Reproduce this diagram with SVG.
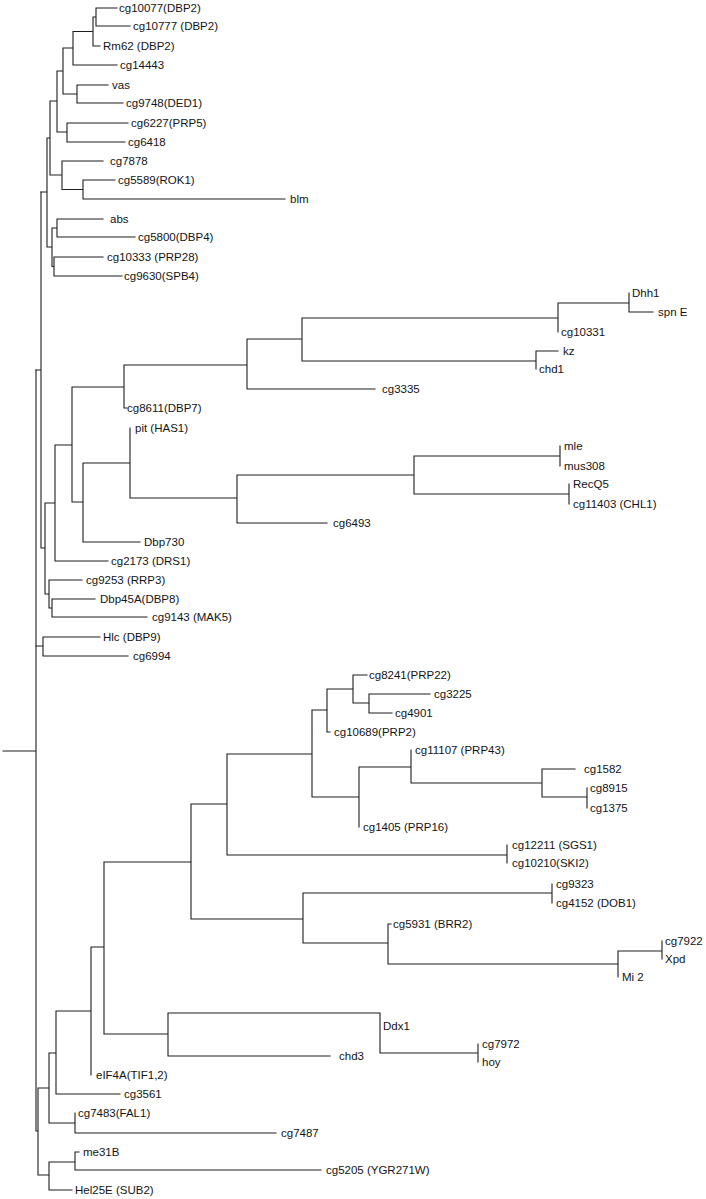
<svg xmlns="http://www.w3.org/2000/svg" width="706" height="1199" viewBox="0 0 706 1199">
<style>
.e{fill:none;stroke:#1e1e1e;stroke-width:1.1;stroke-linecap:square}
text{font-family:"Liberation Sans",Arial,sans-serif;font-size:11.5px;fill:#141414}
</style>
<rect width="706" height="1199" fill="#fff"/>
<g id="connectors">
<path class="e" d="M96 8H117M96 26H130M96 8V26M93 17H96M93 46H100M93 17V46M73 31.5H93M73 65H117M73 31.5V65M63 48H73M77 85H108M77 103H123M77 85V103M63 94H77M63 48V94M57 71H63M67 123H128M67 142H125M67 123V142M57 132H67M57 71V132M50 101H57M62 161H103M83 180H115M83 199H285M83 180V199M62 189.5H83M62 161V189.5M50 175H62M50 101V175M47 138H50M57 219H103M57 237H135M57 219V237M54 257H103M54 276H122M54 257V276M52 228H57M52 266.5H54M52 228V266.5M47 247H52M47 138V247M41 192H47"/>
<path class="e" d="M629 293V312M629 312H653M558 303H629M558 303V332M302 318H558M536 351H558M536 351V369M302 361H536M302 318V361M247 339H302M247 389H375M247 339V389M124 365H247M124 365V408H127M72 387H124M560 446V466M414 456H560M569 484V504M414 494H569M414 456V494M237 475H414M237 523H327M237 475V523M130 428V498M130 498H237M83 463H130M83 542H140M83 463V542M72 502H83M72 387V502M55 445H72M55 561H108M55 445V561M45 503H55M49 580H82M52 599H95M52 617H147M52 599V617M49 608H52M49 580V608M45 594H49M45 503V594M41 548H45M41 192V548M36 370H41M43 637H100M43 656H128M43 637V656M36 646H43"/>
<path class="e" d="M353 675H367M369 694H430M369 713H392M369 694V713M353 703H369M353 675V703M327 689H353M327 689V732H330M312 710H327M411 750V783M542 769H575M587 788V808M542 797H587M542 769V797M411 783H542M359 767H411M359 767V827M312 797H359M312 710V797M227 754H312M507 845V863M227 855H507M227 754V855M191 804H227M552 884V903M303 893H552M391 924H388V964M662 941V959M618 951H662M618 951V977M388 964H618M303 943H388M303 893V943M191 919H303M191 804V919M104 862H191M380 1013V1053M478 1044V1062M380 1053H478M168 1013H380M168 1056H330M168 1013V1056M104 1034H168M104 862V1034M91 947H104M91 947V1075M56 1011H91M56 1094H120M56 1011V1094M49 1053H56M75 1113V1133M75 1133H276M49 1123H75M49 1053V1123M38 1088H49M79 1152H75V1170M75 1170H321M49 1162H75M49 1190H72M49 1162V1190M38 1175H49M38 1088V1175M36 1131H38M36 370V1131M3 751H36"/>
</g>
<g id="n-cg10077"><text x="119" y="12">cg10077(DBP2)</text></g>
<g id="n-cg10777"><text x="133" y="30">cg10777 (DBP2)</text></g>
<g id="n-Rm62"><text x="103" y="50">Rm62 (DBP2)</text></g>
<g id="n-cg14443"><text x="120" y="69">cg14443</text></g>
<g id="n-vas"><text x="112" y="89">vas</text></g>
<g id="n-cg9748"><text x="126" y="107">cg9748(DED1)</text></g>
<g id="n-cg6227"><text x="131" y="127">cg6227(PRP5)</text></g>
<g id="n-cg6418"><text x="128" y="146">cg6418</text></g>
<g id="n-cg7878"><text x="110" y="165">cg7878</text></g>
<g id="n-cg5589"><text x="118" y="184">cg5589(ROK1)</text></g>
<g id="n-blm"><text x="290" y="203">blm</text></g>
<g id="n-abs"><text x="110" y="223">abs</text></g>
<g id="n-cg5800"><text x="138" y="241">cg5800(DBP4)</text></g>
<g id="n-cg10333"><text x="107" y="261">cg10333 (PRP28)</text></g>
<g id="n-cg9630"><text x="124" y="280">cg9630(SPB4)</text></g>
<g id="n-Dhh1"><text x="632" y="297">Dhh1</text></g>
<g id="n-spnE"><text x="658" y="316">spn E</text></g>
<g id="n-cg10331"><text x="561" y="336">cg10331</text></g>
<g id="n-kz"><text x="563" y="355">kz</text></g>
<g id="n-chd1"><text x="539" y="373">chd1</text></g>
<g id="n-cg3335"><text x="382" y="393">cg3335</text></g>
<g id="n-cg8611"><text x="127" y="412">cg8611(DBP7)</text></g>
<g id="n-pit"><text x="135" y="432">pit (HAS1)</text></g>
<g id="n-mle"><text x="564" y="450">mle</text></g>
<g id="n-mus308"><text x="564" y="470">mus308</text></g>
<g id="n-RecQ5"><text x="573" y="488">RecQ5</text></g>
<g id="n-cg11403"><text x="573" y="508">cg11403 (CHL1)</text></g>
<g id="n-cg6493"><text x="333" y="527">cg6493</text></g>
<g id="n-Dbp730"><text x="144" y="546">Dbp730</text></g>
<g id="n-cg2173"><text x="111" y="565">cg2173 (DRS1)</text></g>
<g id="n-cg9253"><text x="86" y="584">cg9253 (RRP3)</text></g>
<g id="n-Dbp45A"><text x="100" y="603">Dbp45A(DBP8)</text></g>
<g id="n-cg9143"><text x="152" y="621">cg9143 (MAK5)</text></g>
<g id="n-Hlc"><text x="103" y="641">Hlc (DBP9)</text></g>
<g id="n-cg6994"><text x="133" y="660">cg6994</text></g>
<g id="n-cg8241"><text x="369" y="679">cg8241(PRP22)</text></g>
<g id="n-cg3225"><text x="434" y="698">cg3225</text></g>
<g id="n-cg4901"><text x="395" y="717">cg4901</text></g>
<g id="n-cg10689"><text x="334" y="736">cg10689(PRP2)</text></g>
<g id="n-cg11107"><text x="415" y="754">cg11107 (PRP43)</text></g>
<g id="n-cg1582"><text x="584" y="773">cg1582</text></g>
<g id="n-cg8915"><text x="590" y="792">cg8915</text></g>
<g id="n-cg1375"><text x="590" y="812">cg1375</text></g>
<g id="n-cg1405"><text x="363" y="831">cg1405 (PRP16)</text></g>
<g id="n-cg12211"><text x="512" y="849">cg12211 (SGS1)</text></g>
<g id="n-cg10210"><text x="512" y="867">cg10210(SKI2)</text></g>
<g id="n-cg9323"><text x="556" y="888">cg9323</text></g>
<g id="n-cg4152"><text x="556" y="907">cg4152 (DOB1)</text></g>
<g id="n-cg5931"><text x="393" y="928">cg5931 (BRR2)</text></g>
<g id="n-cg7922"><text x="665" y="945">cg7922</text></g>
<g id="n-Xpd"><text x="665" y="963">Xpd</text></g>
<g id="n-Mi2"><text x="622" y="981">Mi 2</text></g>
<g id="n-Ddx1"><text x="383" y="1030">Ddx1</text></g>
<g id="n-cg7972"><text x="482" y="1048">cg7972</text></g>
<g id="n-hoy"><text x="482" y="1066">hoy</text></g>
<g id="n-chd3"><text x="339" y="1060">chd3</text></g>
<g id="n-eIF4A"><text x="96" y="1079">eIF4A(TIF1,2)</text></g>
<g id="n-cg3561"><text x="124" y="1098">cg3561</text></g>
<g id="n-cg7483"><text x="78" y="1117">cg7483(FAL1)</text></g>
<g id="n-cg7487"><text x="281" y="1137">cg7487</text></g>
<g id="n-me31B"><text x="83" y="1156">me31B</text></g>
<g id="n-cg5205"><text x="326" y="1174">cg5205 (YGR271W)</text></g>
<g id="n-Hel25E"><text x="75" y="1194">Hel25E (SUB2)</text></g>
</svg>
